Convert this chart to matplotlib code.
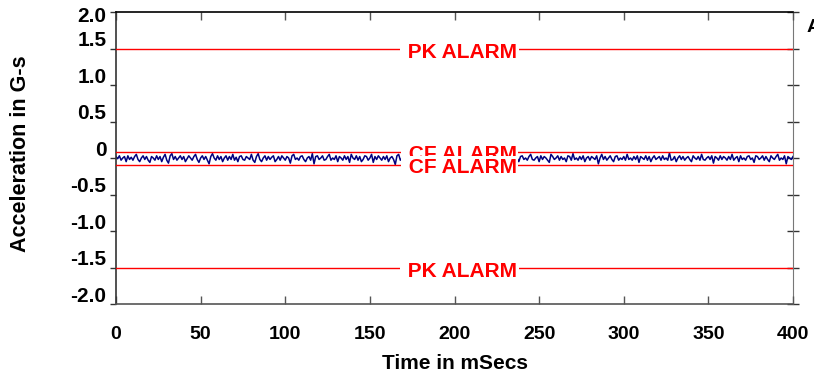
import matplotlib
matplotlib.use("Agg")
import matplotlib.pyplot as plt
import matplotlib.transforms as mtransforms
import numpy as np

plt.rcParams['font.family'] = ['Liberation Sans', 'DejaVu Sans']
plt.rcParams['font.weight'] = 'bold'

# Acceleration trace, 1 ms per sample, in G
accel = [
    0.02, -0.01, 0.03, -0.03, 0.00, 0.02, -0.05, 0.03, -0.02, 0.01, -0.03, 0.02, 0.05, -0.02, -0.05, 0.00, 0.03, -0.02, 0.02, -0.03,
    -0.06, 0.02, 0.00, -0.03, 0.03, -0.02, 0.02, -0.05, 0.01, 0.05, -0.03, -0.07, 0.03, 0.06, -0.02, 0.02, -0.03, 0.00, 0.03, -0.02,
    0.02, -0.05, -0.01, 0.03, 0.00, -0.03, 0.02, 0.05, -0.02, -0.06, 0.00, 0.03, -0.02, 0.02, -0.03, -0.08, 0.02, 0.06, 0.00, -0.03,
    0.03, -0.02, 0.02, -0.05, 0.00, 0.03, -0.03, 0.02, -0.02, 0.05, -0.03, 0.01, -0.05, 0.02, 0.03, -0.02, -0.03, 0.02, 0.00, -0.02,
    0.05, -0.03, -0.06, 0.02, 0.06, -0.02, -0.05, 0.00, 0.03, -0.03, 0.02, -0.02, 0.01, 0.03, -0.05, -0.02, 0.02, -0.03, 0.03, 0.00,
    -0.03, 0.02, 0.00, -0.07, 0.03, 0.05, -0.02, 0.00, -0.03, 0.02, 0.03, -0.02, -0.05, 0.00, 0.02, -0.03, 0.06, -0.08, 0.02, 0.03,
    -0.02, 0.00, 0.03, -0.03, -0.02, 0.02, 0.05, -0.03, 0.00, -0.02, 0.03, -0.05, 0.02, 0.00, -0.03, 0.03, -0.02, 0.02, -0.06, 0.05,
    0.00, -0.02, 0.03, -0.03, 0.02, -0.05, -0.02, 0.03, 0.02, -0.03, 0.00, 0.05, -0.06, 0.02, -0.02, 0.03, 0.00, -0.03, 0.02, -0.02,
    0.03, -0.05, 0.00, 0.02, -0.02, -0.09, 0.03, 0.05, -0.03, 0.00, 0.02, -0.02, 0.03, -0.03, 0.01, -0.05, 0.02, 0.03, -0.02, 0.00,
    -0.03, 0.02, -0.02, 0.05, 0.00, -0.03, 0.02, -0.06, 0.03, 0.00, -0.02, 0.02, -0.03, 0.06, -0.02, -0.05, 0.00, 0.03, -0.02, 0.02,
    0.00, -0.03, 0.03, -0.02, 0.02, -0.05, 0.00, 0.03, -0.03, 0.02, 0.07, -0.02, -0.06, 0.02, 0.00, -0.02, 0.03, -0.03, 0.00, 0.02,
    -0.02, 0.03, -0.05, 0.00, 0.02, -0.03, 0.02, -0.02, 0.05, -0.03, -0.07, 0.03, 0.00, -0.02, 0.02, -0.03, 0.03, 0.00, -0.05, 0.02,
    0.03, -0.02, 0.00, -0.03, 0.02, 0.05, -0.02, -0.03, 0.00, 0.02, -0.05, 0.03, -0.02, 0.02, 0.00, -0.03, -0.06, 0.05, 0.02, -0.02,
    0.00, 0.03, -0.03, 0.02, -0.02, 0.00, -0.05, 0.03, 0.02, -0.03, 0.06, -0.02, 0.00, -0.03, 0.02, -0.02, 0.03, -0.05, 0.00, 0.02,
    -0.03, 0.02, 0.00, -0.02, 0.03, -0.08, 0.00, 0.05, -0.02, 0.02, -0.03, 0.00, 0.03, -0.02, -0.05, 0.02, 0.03, -0.03, 0.00, -0.02,
    0.02, -0.03, 0.05, -0.02, 0.00, -0.03, 0.02, -0.02, 0.03, -0.06, 0.02, 0.00, -0.02, 0.03, -0.03, 0.02, -0.05, 0.00, 0.03, -0.02,
    0.00, 0.02, -0.03, 0.03, -0.02, 0.00, -0.03, 0.07, -0.03, -0.02, 0.02, -0.05, 0.00, 0.03, -0.02, 0.02, -0.03, 0.00, 0.02, -0.02,
    -0.05, 0.03, 0.00, -0.02, 0.02, -0.03, 0.05, -0.02, -0.03, 0.00, 0.02, -0.02, 0.03, -0.07, 0.02, 0.00, -0.03, 0.03, -0.02, 0.02,
    0.00, -0.03, 0.02, -0.02, 0.05, -0.03, 0.00, 0.02, -0.05, 0.03, -0.02, 0.00, -0.03, 0.02, 0.03, -0.02, 0.00, -0.06, 0.03, 0.02,
    -0.02, 0.00, 0.03, -0.03, 0.02, -0.02, -0.05, 0.03, 0.00, -0.02, 0.02, 0.05, -0.03, 0.00, -0.02, 0.03, -0.08, 0.02, 0.00, -0.02,
    0.02,
]
time_ms = np.arange(len(accel))

# Alarm thresholds in G
pk_alarm = 1.5
cf_alarm_hi = 0.085
cf_alarm_lo = -0.09
label_x = 203

x_ticks = [0, 50, 100, 150, 200, 250, 300, 350, 400]
y_ticks = [-2.0, -1.5, -1.0, -0.5, 0.0, 0.5, 1.0, 1.5, 2.0]
y_tick_labels = ['-2.0', '-1.5', '-1.0', '-0.5', '0', '0.5', '1.0', '1.5', '2.0']

W, H = 814, 378
fig = plt.figure(figsize=(W / 100, H / 100), dpi=100)
ax = fig.add_axes([116 / W, 1 - 304 / H, (793 - 116) / W, (304 - 12) / H])
ax.set_xlim(0, 400)
ax.set_ylim(-2, 2)

ax.plot(time_ms, accel, color='#000080', lw=1.1, zorder=2)
for lvl in (pk_alarm, -pk_alarm, cf_alarm_hi, cf_alarm_lo):
    ax.axhline(lvl, color='#ff0000', lw=1.0, zorder=3)

box = dict(boxstyle='square,pad=0.08', fc='white', ec='none')
txt_kw = dict(color='#ff0000', fontsize=15, fontweight='bold', ha='center',
              va='baseline', textcoords='offset points', bbox=box, zorder=5)
ax.annotate(' PK ALARM', (label_x, pk_alarm), xytext=(0, -7), **txt_kw)
ax.annotate(' PK ALARM', (label_x, -pk_alarm), xytext=(0, -7), **txt_kw)
ax.annotate(' CF ALARM', (label_x, cf_alarm_hi), xytext=(0, -6), **txt_kw)
ax.annotate(' CF ALARM', (label_x, cf_alarm_lo), xytext=(0, -6), **txt_kw)

# Axes styling
ax.set_xticks(x_ticks)
ax.set_yticks(y_ticks)
ax.set_yticklabels(y_tick_labels)
ax.tick_params(axis='x', direction='in', length=6, width=1, color='#555555',
               top=True, bottom=True, labelsize=14, pad=16)
ax.tick_params(axis='y', direction='out', length=4, width=1, color='#333333',
               left=True, right=False, labelsize=15, pad=3)
for lab in ax.get_xticklabels() + ax.get_yticklabels():
    lab.set_fontweight('bold')

# tick labels on the y axis sit just above their tick marks
for lab, v in zip(ax.get_yticklabels(), y_ticks):
    dy = -2 / 72 if v == 2.0 else 7 / 72
    lab.set_transform(lab.get_transform() +
                      mtransforms.ScaledTranslation(0, dy, fig.dpi_scale_trans))

right = ax.secondary_yaxis('right')
right.set_yticks(y_ticks)
right.tick_params(direction='inout', length=8, width=1, color='#333333',
                  labelright=False)
right.spines['right'].set_color('#777777')

ax.spines['top'].set_color('black')
ax.spines['left'].set_color('#333333')
ax.spines['bottom'].set_color('#555555')
ax.spines['right'].set_visible(False)
for s in ax.spines.values():
    s.set_linewidth(1.2)

ax.set_xlabel('Time in mSecs', fontsize=15, fontweight='bold', labelpad=8)
ax.set_ylabel('Acceleration in G-s', fontsize=15.5, fontweight='bold')
ax.yaxis.set_label_coords((31 - 116) / (793 - 116), 0.515)

fig.text(807 / W, 1 - 27 / H, 'A', fontsize=14, fontweight='bold', va='center', ha='left')

fig.savefig('out.png', dpi=100)
